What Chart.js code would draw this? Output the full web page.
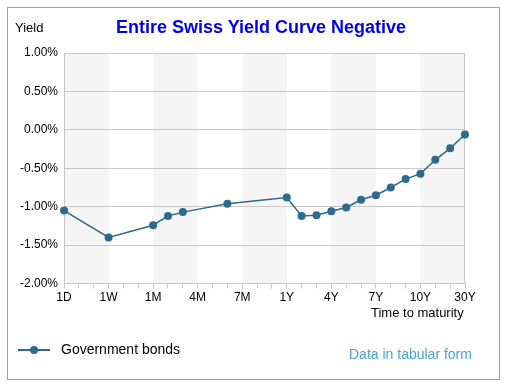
<!DOCTYPE html>
<html>
<head>
<meta charset="utf-8">
<script src="https://cdn.jsdelivr.net/npm/chart.js@4.4.0/dist/chart.umd.min.js"></script>
<style>
  body { margin: 0; background: #fff; font-family: "Liberation Sans", Arial, sans-serif; }
  .frame { position: absolute; left: 7px; top: 7px; width: 491px; height: 371px; border: 1px solid #a0a0a0; }
  .title { position: absolute; left: 0; width: 522px; top: 17px; text-align: center; color: #0000ee; font-weight: bold; font-size: 18px; }
  .ylab { position: absolute; left: 15px; top: 20px; font-size: 13px; color: #000; }
  .xlab { position: absolute; left: 371px; top: 305px; font-size: 13px; color: #000; }
  .legend { position: absolute; left: 18px; top: 341px; font-size: 14px; color: #000; }
  .legend .sw { display: inline-block; width: 32px; height: 2px; background: #2e6a8e; position: relative; vertical-align: middle; margin-right: 11px; }
  .legend .sw:after { content: ""; position: absolute; left: 12px; top: -3px; width: 8px; height: 8px; border-radius: 50%; background: #2e6a8e; }
  .tab { position: absolute; left: 349px; top: 346px; font-size: 14px; color: #4aa3d3; }
  #wrap { position: absolute; left: 0; top: 0; width: 512px; height: 384px; }
</style>
</head>
<body>
<div class="frame"></div>
<div id="wrap"><canvas id="myChart" width="512" height="384"></canvas></div>
<div class="title">Entire Swiss Yield Curve Negative</div>
<div class="ylab">Yield</div>
<div class="xlab">Time to maturity</div>
<div class="legend"><span class="sw"></span>Government bonds</div>
<div class="tab">Data in tabular form</div>
<script>
// maturities on the x axis (only every 3rd one is labelled)
const maturities = ['1D','2D','3D','1W','2W','3W','1M','2M','3M','4M','5M','6M','7M','8M','9M',
  '1Y','2Y','3Y','4Y','5Y','6Y','7Y','8Y','9Y','10Y','15Y','20Y','30Y'];
// yields in percent, null = no bond at that maturity
const yields = [-1.05, null, null, -1.40, null, null, -1.24, -1.12, -1.07, null, null, -0.96, null, null, null,
  -0.88, -1.12, -1.11, -1.06, -1.01, -0.91, -0.85, -0.75, -0.64, -0.57, -0.39, -0.24, -0.06];
const yTicks = [1, 0.5, 0, -0.5, -1, -1.5, -2];

const bands = {
  id: 'bands',
  beforeDraw(chart) {
    const { ctx, chartArea: a, scales: { x } } = chart;
    ctx.save();
    ctx.fillStyle = '#f5f5f5';
    for (let i = 0; i + 3 < maturities.length; i += 6) {
      const x0 = x.getPixelForValue(i), x1 = x.getPixelForValue(i + 3);
      ctx.fillRect(x0, a.top, x1 - x0, a.bottom - a.top);
    }
    ctx.strokeStyle = '#c8c8c8';
    ctx.lineWidth = 1;
    ctx.beginPath();
    ctx.moveTo(Math.round(a.left) + 0.5, a.top); ctx.lineTo(Math.round(a.left) + 0.5, a.bottom);
    ctx.moveTo(Math.round(a.right) - 0.5, a.top); ctx.lineTo(Math.round(a.right) - 0.5, a.bottom);
    ctx.stroke();
    ctx.restore();
  }
};

new Chart(document.getElementById('myChart'), {
  type: 'line',
  data: {
    labels: maturities,
    datasets: [{
      label: 'Government bonds',
      data: yields,
      borderColor: '#2e6a8e',
      backgroundColor: '#2e6a8e',
      borderWidth: 1.5,
      pointRadius: 4,
      pointBorderWidth: 0,
      spanGaps: true,
      tension: 0,
      fill: false
    }]
  },
  options: {
    responsive: false,
    animation: false,
    layout: { padding: { left: 14, right: 47, top: 53, bottom: 77 } },
    plugins: { legend: { display: false }, tooltip: { enabled: false } },
    scales: {
      x: {
        offset: false,
        grid: { display: true, drawOnChartArea: false, drawTicks: true, tickLength: 5, color: '#c8c8c8' },
        border: { color: '#c8c8c8' },
        ticks: {
          autoSkip: false, maxRotation: 0, color: '#000', padding: 2,
          font: { family: 'Liberation Sans', size: 12 },
          callback: (v, i) => (i % 3 === 0 ? maturities[i] : '')
        }
      },
      y: {
        min: -2, max: 1,
        afterBuildTicks: s => { s.ticks = yTicks.map(v => ({ value: v })); },
        grid: { color: '#c8c8c8', drawTicks: false },
        border: { display: false },
        ticks: {
          color: '#000', padding: 6,
          font: { family: 'Liberation Sans', size: 12 },
          callback: v => v.toFixed(2) + '%'
        }
      }
    }
  },
  plugins: [bands]
});
</script>
</body>
</html>
